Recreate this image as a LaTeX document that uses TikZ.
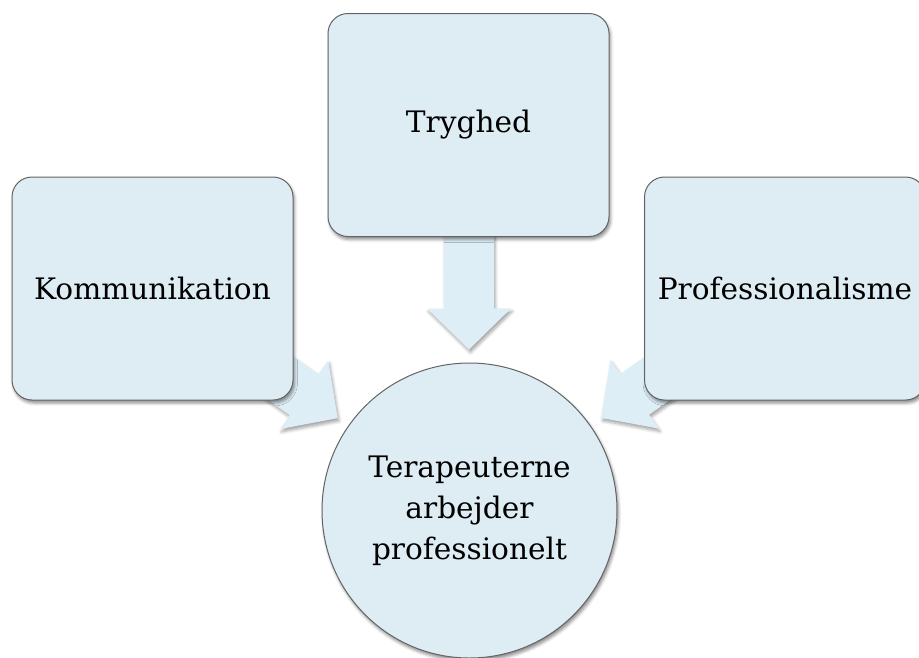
\documentclass[tikz,border=0pt]{standalone}
\usepackage{fontspec}
\setmainfont{DejaVu Serif}
\usetikzlibrary{shadows.blur,calc}
\definecolor{boxfill}{RGB}{222,237,244}
\definecolor{arrowfill}{RGB}{222,238,246}
\definecolor{edgegray}{RGB}{100,100,100}
\pgfdeclarelayer{bg}
\pgfsetlayers{bg,main}
\newcommand\blockarrow[2]{%
  \coordinate (T) at ($(#2.center)!161pt!(#1.center)$);
  \coordinate (H) at ($(T)!41pt!(#1.center)$);
  \coordinate (E) at ($(T)!135pt!(#1.center)$);
  \fill[arrowbody] ($(E)!25pt!90:(T)$) -- ($(H)!25pt!90:(T)$) -- ($(H)!42pt!90:(T)$) -- (T)
    -- ($(H)!42pt!-90:(T)$) -- ($(H)!25pt!-90:(T)$) -- ($(E)!25pt!-90:(T)$) -- cycle;}
\begin{document}
\begin{tikzpicture}[x=1pt,y=-1pt,
  lbl/.style={font=\fontsize{29.6}{41}\selectfont, text=black, align=center},
  boxnode/.style={lbl, draw=edgegray, line width=1pt, fill=boxfill, rounded corners=20pt,
    minimum width=281pt, minimum height=223pt, inner sep=0pt,
    blur shadow={shadow xshift=1.5pt, shadow yshift=-3pt, shadow blur radius=3pt, shadow opacity=45}},
  circnode/.style={lbl, circle, draw=edgegray, line width=1pt, fill=boxfill,
    minimum size=295pt, inner sep=0pt,
    blur shadow={shadow xshift=1.5pt, shadow yshift=-3pt, shadow blur radius=3pt, shadow opacity=45}},
  arrowbody/.style={fill=arrowfill,
    blur shadow={shadow xshift=1.5pt, shadow yshift=-3pt, shadow blur radius=3pt, shadow opacity=35}}]
\useasboundingbox (0,0) rectangle (919,657);
\node[boxnode] (komm) at (152.5,288.5) {Kommunikation};
\node[boxnode] (tryg) at (468.5,125) {Tryghed};
\node[boxnode] (prof) at (785,288.5) {Professionalisme};
\node[circnode] (tera) at (469.5,510.5) {Terapeuterne\\arbejder\\professionelt};
\begin{pgfonlayer}{bg}
\blockarrow{komm}{tera}
\blockarrow{tryg}{tera}
\blockarrow{prof}{tera}
\end{pgfonlayer}
\end{tikzpicture}
\end{document}
